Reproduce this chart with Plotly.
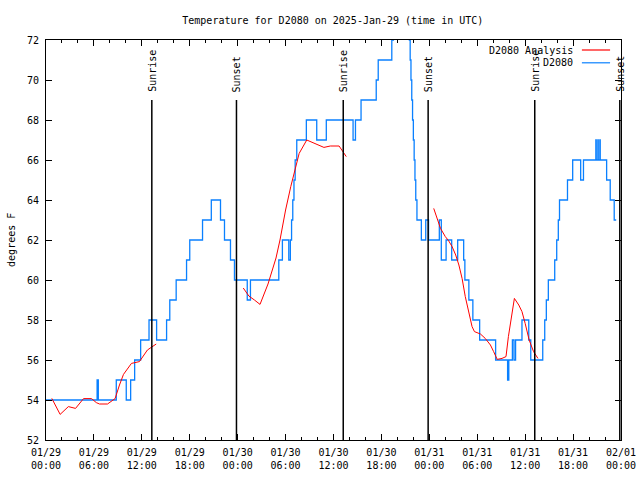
import pandas as pd
import plotly.graph_objects as go

BASE = pd.Timestamp("2025-01-29 00:00")

# D2080 observations (hours since 01/29 00:00 UTC, degrees F) - step values
obs_hours = [0.0, 6.4, 6.55, 8.8, 10.05, 10.6, 11.1, 11.85, 12.9, 13.85, 15.1, 15.5, 16.3, 17.6, 18.0,
             19.6, 20.7, 21.85, 22.35, 23.1, 23.6, 25.2, 25.6, 29.15, 29.6, 30.4, 30.6, 30.75, 30.9,
             31.05, 31.2, 31.4, 32.6, 33.9, 35.1, 38.45, 38.75, 39.45, 41.35, 41.6, 43.3, 43.5, 45.5,
             45.6, 45.7, 45.8, 45.9, 46.0, 46.1, 46.2, 46.3, 46.45, 47.0, 47.55, 47.9, 49.25, 49.5,
             50.1, 50.8, 51.55, 52.3, 52.45, 52.95, 53.45, 54.3, 56.3, 57.8, 57.95, 58.4, 58.6, 58.8,
             59.6, 60.45, 60.7, 62.2, 62.45, 62.65, 62.9, 63.7, 63.95, 64.15, 64.3, 65.3, 65.95, 66.95,
             67.3, 68.85, 68.9, 69.1, 69.15, 69.35, 69.4, 70.2, 70.65, 71.15, 71.4]
obs_temp = [54, 55, 54, 55, 54, 55, 56, 57, 58, 57, 58, 59, 60, 61, 62,
            63, 64, 63, 62, 61, 60, 59, 60, 61, 62, 61, 62, 63, 64,
            65, 66, 67, 68, 67, 68, 67, 68, 69, 70, 71, 72, 75, 72,
            71, 70, 69, 68, 67, 66, 65, 64, 63, 62, 63, 62, 63, 61,
            62, 61, 62, 61, 60, 59, 58, 57, 56, 55, 56, 57, 56, 57,
            58, 57, 56, 57, 58, 59, 60, 61, 62, 63, 64, 65, 66, 65,
            66, 67, 66, 67, 66, 67, 66, 65, 64, 63, 63]

# D2080 Analysis (three segments, None = gap)
ana_hours = [0.73, 1.77, 2.8, 3.7, 4.7, 5.7, 6.3, 6.7, 7.7, 8.65, 9.2, 9.7, 10.7, 11.7, 12.7, 13.8, None,
             24.7, 25.4, 26.1, 26.8, 27.8, 28.8, 29.3, 29.7, 30.0, 30.65, 31.3, 31.7, 32.65, 33.8, 34.8,
             35.6, 36.7, 37.6, None,
             48.55, 49.4, 50.0, 50.4, 50.85, 51.3, 51.7, 52.1, 52.5, 52.9, 53.35, 53.65, 54.4, 55.0,
             55.65, 56.05, 56.5, 57.1, 57.6, 57.9, 58.3, 58.65, 59.2, 59.6, 60.0, 60.5, 61.05, 61.6]
ana_temp = [54.08, 53.28, 53.67, 53.58, 54.07, 54.07, 53.87, 53.8, 53.8, 54.07, 54.75, 55.28, 55.83, 55.92,
            56.5, 56.8, None,
            59.6, 59.2, 59.0, 58.78, 59.8, 61.1, 62.0, 62.9, 63.5, 64.67, 65.7, 66.33, 67.0, 66.8, 66.63,
            66.7, 66.7, 66.17, None,
            63.58, 62.58, 62.17, 61.97, 61.67, 61.25, 60.75, 60.08, 59.17, 58.5, 57.67, 57.42, 57.3, 57.08,
            56.75, 56.42, 56.03, 56.08, 56.17, 57.17, 58.17, 59.08, 58.75, 58.42, 57.83, 57.0, 56.42, 56.08]

sunrise_hours = [13.25, 37.22, 61.2]
sunset_hours = [23.85, 47.85, 71.85]

tick_hours = list(range(0, 73, 6))
tick_labels = ["01/29<br>00:00", "01/29<br>06:00", "01/29<br>12:00", "01/29<br>18:00",
               "01/30<br>00:00", "01/30<br>06:00", "01/30<br>12:00", "01/30<br>18:00",
               "01/31<br>00:00", "01/31<br>06:00", "01/31<br>12:00", "01/31<br>18:00",
               "02/01<br>00:00"]


def ts(h):
    return None if h is None else BASE + pd.Timedelta(hours=h)


FONT = "DejaVu Sans Mono"
BLUE = "#0a80ff"
RED = "#ff0000"

fig = go.Figure()
fig.add_trace(go.Scatter(x=[ts(h) for h in obs_hours], y=obs_temp, mode="lines",
                         line=dict(color=BLUE, width=1.3, shape="hv"), name="D2080"))
fig.add_trace(go.Scatter(x=[ts(h) for h in ana_hours], y=ana_temp, mode="lines",
                         line=dict(color=RED, width=1), connectgaps=False, name="D2080 Analysis"))

shapes = []
annotations = []
for label, hours in (("Sunrise", sunrise_hours), ("Sunset", sunset_hours)):
    for h in hours:
        shapes.append(dict(type="line", xref="x", yref="y", x0=ts(h), x1=ts(h), y0=52, y1=69,
                           line=dict(color="black", width=1.5)))
        annotations.append(dict(x=ts(h), y=69, xref="x", yref="y", text=label, textangle=-90,
                                showarrow=False, yanchor="bottom", xanchor="center", yshift=6,
                                font=dict(family=FONT, size=10, color="black")))

# legend (text left, line sample right, like gnuplot)
for i, (name, col) in enumerate((("D2080 Analysis", RED), ("D2080", BLUE))):
    yp = 0.975 - i * 0.032
    annotations.append(dict(x=0.92, y=yp, xref="paper", yref="paper", text=name, showarrow=False,
                            xanchor="right", yanchor="middle",
                            font=dict(family=FONT, size=10, color="black")))
    shapes.append(dict(type="line", xref="paper", yref="paper", x0=0.932, x1=0.981, y0=yp, y1=yp,
                       line=dict(color=col, width=1.2)))

annotations.append(dict(x=-0.061, y=0.5, xref="paper", yref="paper", text="degrees F",
                        textangle=-90, showarrow=False, xanchor="center", yanchor="middle",
                        font=dict(family=FONT, size=10, color="black")))

fig.update_layout(
    width=640, height=480,
    margin=dict(l=46, r=19, t=40, b=40),
    paper_bgcolor="white", plot_bgcolor="white",
    showlegend=False,
    title=dict(text="Temperature for D2080 on 2025-Jan-29 (time in UTC)", x=0.52, xanchor="center",
               y=1 - 20 / 480, yanchor="middle", font=dict(family=FONT, size=10, color="black")),
    shapes=shapes, annotations=annotations,
)
fig.update_xaxes(
    range=[ts(0), ts(72)], tickvals=[ts(h) for h in tick_hours], ticktext=tick_labels,
    ticks="inside", ticklen=6, tickcolor="black", tickwidth=1,
    minor=dict(ticks="inside", dtick=2 * 3600 * 1000, ticklen=3, tickcolor="black", tick0=ts(0)),
    showline=True, linecolor="black", linewidth=1, mirror="ticks", showgrid=False, zeroline=False,
    tickfont=dict(family=FONT, size=10, color="black"), ticklabelstandoff=3, automargin=False,
)
fig.update_yaxes(
    range=[52, 72], dtick=2, tick0=52, ticks="inside", ticklen=6, tickcolor="black",
    showline=True, linecolor="black", linewidth=1, mirror="ticks", showgrid=False, zeroline=False,
    tickfont=dict(family=FONT, size=10, color="black"), ticklabelstandoff=4, automargin=False,
)

fig.write_html("out.html", config={"displayModeBar": False, "staticPlot": True},
               post_script="document.body.style.margin='0px';document.body.style.overflow='hidden';")
